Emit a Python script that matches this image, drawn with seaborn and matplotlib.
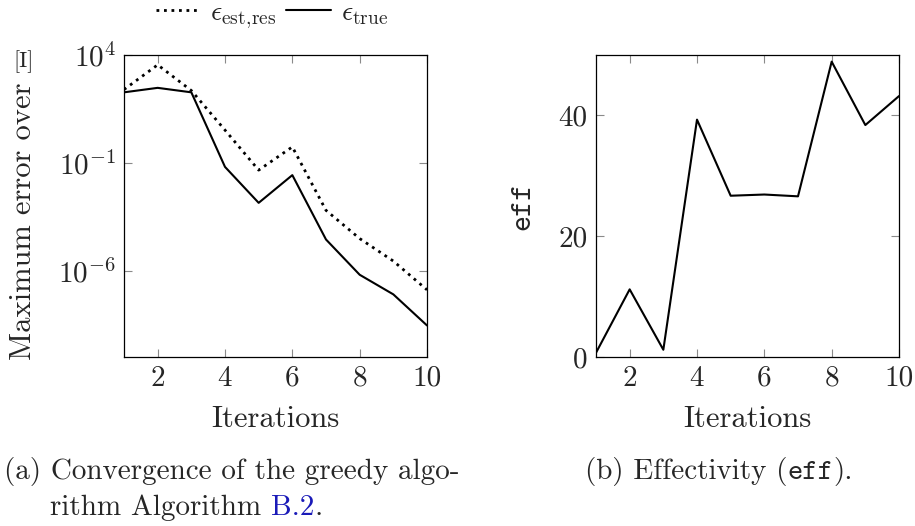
import matplotlib
matplotlib.use("Agg")
import matplotlib.pyplot as plt
import seaborn as sns
import pandas as pd
from matplotlib.lines import Line2D

iterations = [1, 2, 3, 4, 5, 6, 7, 8, 9, 10]
err_est_res = [250, 3500, 225, 3.3, 4.6e-2, 0.55, 6.3e-4, 3.1e-5, 2.8e-6, 1.3e-7]
err_true = [186, 300, 186, 6.5e-2, 1.4e-3, 2.7e-2, 2.8e-5, 6.5e-7, 8.0e-8, 2.9e-9]
eff = [0.7, 11.2, 1.2, 39.3, 26.7, 26.9, 26.6, 48.9, 38.4, 43.2]
x_ticks = [2, 4, 6, 8, 10]
left_yticks = [1e-6, 1e-1, 1e4]
left_yticklabels = [r"$10^{-6}$", r"$10^{-1}$", r"$10^{4}$"]
right_yticks = [0, 20, 40]

sns.set_style("ticks")
plt.rcParams["font.family"] = ["cmr10", "DejaVu Serif"]
plt.rcParams["mathtext.fontset"] = "cm"
plt.rcParams["axes.formatter.use_mathtext"] = True
plt.rcParams["axes.unicode_minus"] = False

FS = 21
LFS = 22
W, H = 915, 526
fig = plt.figure(figsize=(W / 100, H / 100), dpi=100)

def ax_rect(x0, y0, x1, y1):
    return [x0 / W, 1 - y1 / H, (x1 - x0) / W, (y1 - y0) / H]

axL = fig.add_axes(ax_rect(124, 55, 427, 357))
axR = fig.add_axes(ax_rect(596, 55, 899, 357))

df = pd.DataFrame({"it": iterations, "est": err_est_res, "true": err_true, "eff": eff})

sns.lineplot(data=df, x="it", y="est", ax=axL, color="black", linewidth=2.0,
             linestyle=(0, (1, 1.7)))
sns.lineplot(data=df, x="it", y="true", ax=axL, color="black", linewidth=1.5)
axL.set_yscale("log")
axL.set_ylim(1e-10, 1e4)
axL.set_yticks(left_yticks)
axL.set_yticklabels(left_yticklabels)
axL.minorticks_off()

sns.lineplot(data=df, x="it", y="eff", ax=axR, color="black", linewidth=1.5)
axR.set_ylim(0, 50)
axR.set_yticks(right_yticks)
axR.set_yticklabels([str(v) for v in right_yticks])

for ax in (axL, axR):
    ax.set_xlim(1, 10)
    ax.set_xticks(x_ticks)
    ax.set_xticklabels([str(v) for v in x_ticks])
    ax.tick_params(which="both", direction="in", top=True, right=True,
                   length=5.5, width=0.8, color="#8a8a8a", labelsize=FS, pad=6)
    for s in ax.spines.values():
        s.set_visible(True)
        s.set_linewidth(0.9)
        s.set_color("black")
    ax.set_xlabel("Iterations", fontsize=LFS, labelpad=10)
    ax.set_ylabel("")

axR.text(-0.24, 0.5, "eff", transform=axR.transAxes, rotation=90,
         ha="center", va="center", fontsize=LFS, fontfamily="cmtt10")

# left y label (partly clipped in original) and unit
fig.text(23 / W, 1 - 360 / H, "Maximum error over", rotation=90, ha="center",
         va="bottom", fontsize=LFS)
fig.text(24 / W, 1 - 62 / H, "[I]", ha="center", va="center", fontsize=FS - 5)

# legend
handles = [Line2D([], [], color="black", linewidth=2.0, linestyle=(0, (1, 1.7))),
           Line2D([], [], color="black", linewidth=1.5)]
labels = [r"$\epsilon_{\mathrm{est,\!res}}$", r"$\epsilon_{\mathrm{true}}$"]
fig.legend(handles, labels, loc="center", bbox_to_anchor=(272 / W, 1 - 15 / H),
           ncol=2, frameon=False, fontsize=FS - 1, handlelength=1.6,
           handletextpad=0.35, columnspacing=0.35, borderpad=0)

# captions
fig.canvas.draw()
renderer = fig.canvas.get_renderer()

def seq_text(x_px, y_px, pieces):
    x = x_px
    for txt, kw in pieces:
        t = fig.text(x / W, 1 - y_px / H, txt, ha="left", va="baseline",
                     fontsize=FS, **kw)
        bb = t.get_window_extent(renderer)
        x = x + bb.width

seq_text(4, 479, [("(a) Convergence of the greedy algo-", {})])
seq_text(50, 515, [("rithm Algorithm ", {}), ("B.2", {"color": "#1a1ab8"}), (".", {})])
seq_text(585, 479, [("(b) Effectivity (", {}), ("eff", {"fontfamily": "cmtt10"}), (").", {})])

fig.savefig("out.png", dpi=100)
